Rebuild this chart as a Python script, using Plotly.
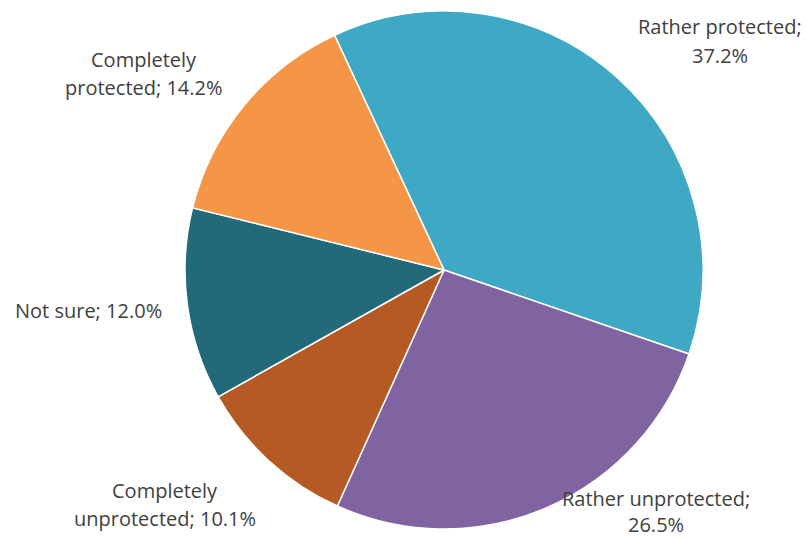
import plotly.graph_objects as go

# Survey answers, in clockwise drawing order
categories = ["Rather protected", "Rather unprotected", "Completely unprotected",
              "Not sure", "Completely protected"]
shares = [37.2, 26.5, 10.1, 12.0, 14.2]
colors = ["#3FA9C5", "#8064A2", "#B65A25", "#226A7A", "#F59646"]

W, H = 806, 539
cx, cy, r = 444, 270, 259

fig = go.Figure(go.Pie(
    labels=categories,
    values=shares,
    sort=False,
    direction="clockwise",
    rotation=-25,
    marker=dict(colors=colors, line=dict(color="white", width=1.5)),
    textinfo="none",
    hoverinfo="label+percent",
    domain=dict(x=[(cx - r) / W, (cx + r) / W], y=[(H - cy - r) / H, (H - cy + r) / H]),
    showlegend=False,
))

# Label text split into lines: (category index, line break style, centre x, first line y, line gap)
label_layout = [
    (0, "after_sep", 720, 27, 28),
    (1, "after_sep", 656, 498, 26),
    (2, "after_word", 165, 490, 28),
    (3, "none", 88, 310, 28),
    (4, "after_word", 144, 60, 28),
]

annotations = []
for i, mode, x, y, gap in label_layout:
    name = categories[i]
    pct = f"{shares[i]:.1f}%"
    if mode == "after_sep":
        lines = [f"{name};", pct]
    elif mode == "after_word":
        first, rest = name.split(" ", 1)
        lines = [first, f"{rest}; {pct}"]
    else:
        lines = [f"{name}; {pct}"]
    for k, line in enumerate(lines):
        annotations.append(dict(
            text=line, x=x / W, y=1 - (y + k * gap) / H,
            xref="paper", yref="paper", xanchor="center", yanchor="middle",
            showarrow=False, font=dict(size=20, color="#404040", family="Open Sans"),
        ))

fig.update_layout(
    width=W, height=H,
    margin=dict(l=0, r=0, t=0, b=0),
    paper_bgcolor="white", plot_bgcolor="white",
    annotations=annotations,
)

fig.write_html("out.html")
